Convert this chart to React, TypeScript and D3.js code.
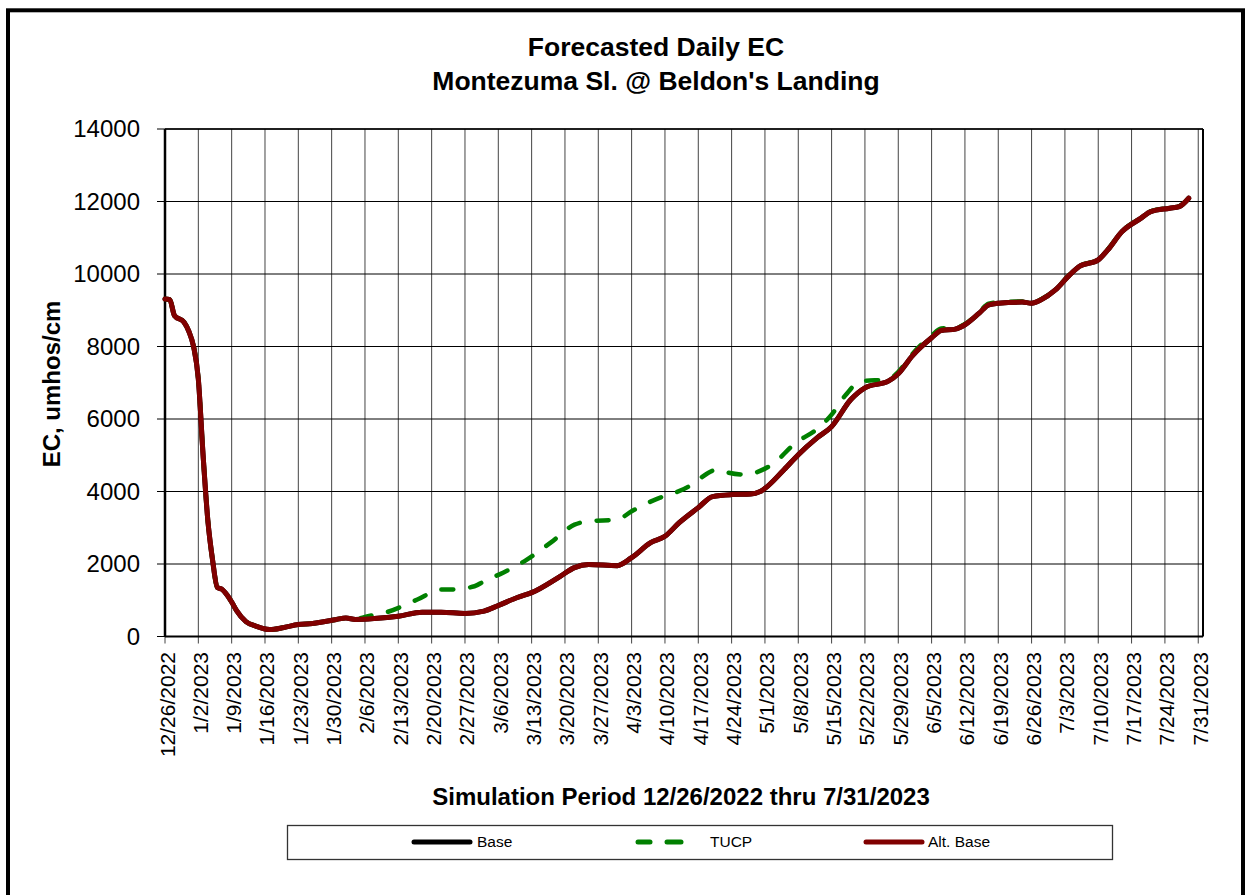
import React from "react";
import * as d3 from "d3";

// ---- data ----
const xTickLabels = [
  "12/26/2022", "1/2/2023", "1/9/2023", "1/16/2023", "1/23/2023", "1/30/2023",
  "2/6/2023", "2/13/2023", "2/20/2023", "2/27/2023", "3/6/2023", "3/13/2023",
  "3/20/2023", "3/27/2023", "4/3/2023", "4/10/2023", "4/17/2023", "4/24/2023",
  "5/1/2023", "5/8/2023", "5/15/2023", "5/22/2023", "5/29/2023", "6/5/2023",
  "6/12/2023", "6/19/2023", "6/26/2023", "7/3/2023", "7/10/2023", "7/17/2023",
  "7/24/2023", "7/31/2023",
];
const yTicks = [0, 2000, 4000, 6000, 8000, 10000, 12000, 14000];
const xDomain = ["12/26/2022", "8/1/2023"];

const altDates = [
  "12/26/2022", "12/27/2022", "12/28/2022", "12/30/2022", "12/31/2022", "1/1/2023",
  "1/2/2023", "1/3/2023", "1/4/2023", "1/5/2023", "1/6/2023", "1/7/2023",
  "1/8/2023", "1/9/2023", "1/10/2023", "1/12/2023", "1/14/2023", "1/17/2023",
  "1/20/2023", "1/23/2023", "1/26/2023", "1/28/2023", "1/31/2023", "2/2/2023",
  "2/4/2023", "2/8/2023", "2/13/2023", "2/18/2023", "2/22/2023", "2/27/2023",
  "3/3/2023", "3/6/2023", "3/10/2023", "3/13/2023", "3/19/2023", "3/22/2023",
  "3/25/2023", "3/31/2023", "4/3/2023", "4/7/2023", "4/10/2023", "4/13/2023",
  "4/17/2023", "4/20/2023", "4/24/2023", "4/28/2023", "4/30/2023", "5/5/2023",
  "5/8/2023", "5/12/2023", "5/15/2023", "5/19/2023", "5/22/2023", "5/27/2023",
  "5/29/2023", "6/1/2023", "6/5/2023", "6/7/2023", "6/10/2023", "6/12/2023",
  "6/15/2023", "6/17/2023", "6/19/2023", "6/24/2023", "6/26/2023", "6/28/2023",
  "7/1/2023", "7/4/2023", "7/6/2023", "7/10/2023", "7/12/2023", "7/15/2023",
  "7/19/2023", "7/21/2023", "7/25/2023", "7/27/2023", "7/29/2023",
];
const altValues = [
  9310, 9290, 8850, 8670, 8420, 8000,
  7100, 5000, 3200, 2100, 1350, 1300,
  1150, 950, 720, 410, 290, 190,
  250, 330, 360, 400, 470, 510,
  470, 495, 560, 670, 670, 635,
  700, 855, 1075, 1210, 1660, 1900,
  1985, 1955, 2175, 2590, 2765, 3140,
  3555, 3860, 3915, 3930, 4000, 4600,
  5015, 5485, 5790, 6530, 6860, 7050,
  7250, 7750, 8240, 8440, 8480, 8600,
  8920, 9150, 9195, 9225, 9195, 9290,
  9560, 9975, 10205, 10390, 10665, 11170,
  11540, 11720, 11815, 11860, 12090,
];

const tucpDates = [
  "12/26/2022", "12/27/2022", "12/28/2022", "12/30/2022", "12/31/2022", "1/1/2023",
  "1/2/2023", "1/3/2023", "1/4/2023", "1/5/2023", "1/6/2023", "1/7/2023",
  "1/8/2023", "1/9/2023", "1/10/2023", "1/12/2023", "1/14/2023", "1/17/2023",
  "1/20/2023", "1/23/2023", "1/26/2023", "1/28/2023", "1/31/2023", "2/2/2023",
  "2/4/2023", "2/6/2023", "2/11/2023", "2/17/2023", "2/22/2023", "2/24/2023",
  "3/1/2023", "3/3/2023", "3/7/2023", "3/12/2023", "3/17/2023", "3/22/2023",
  "3/25/2023", "3/31/2023", "4/3/2023", "4/9/2023", "4/11/2023", "4/15/2023",
  "4/17/2023", "4/21/2023", "4/23/2023", "4/27/2023", "4/29/2023", "5/3/2023",
  "5/7/2023", "5/13/2023", "5/15/2023", "5/18/2023", "5/21/2023", "5/27/2023",
  "5/29/2023", "6/1/2023", "6/5/2023", "6/7/2023", "6/10/2023", "6/12/2023",
  "6/15/2023", "6/17/2023", "6/19/2023", "6/24/2023", "6/26/2023", "6/28/2023",
  "7/1/2023", "7/4/2023", "7/6/2023", "7/10/2023", "7/12/2023", "7/15/2023",
  "7/19/2023", "7/21/2023", "7/25/2023", "7/27/2023", "7/29/2023",
];
const tucpValues = [
  9310, 9290, 8850, 8670, 8420, 8000,
  7100, 5000, 3200, 2100, 1350, 1300,
  1150, 950, 720, 410, 290, 190,
  250, 330, 360, 400, 470, 510,
  470, 540, 690, 1020, 1295, 1295,
  1385, 1525, 1760, 2120, 2590, 3085,
  3180, 3225, 3455, 3830, 3915, 4140,
  4330, 4600, 4530, 4465, 4520, 4795,
  5290, 5840, 6120, 6670, 7035, 7100,
  7300, 7800, 8300, 8500, 8520, 8620,
  8950, 9180, 9220, 9240, 9210, 9300,
  9570, 9985, 10215, 10400, 10675, 11180,
  11550, 11730, 11825, 11870, 12095,
];

// Base coincides with Alt. Base in the picture (drawn beneath it)
const baseDates = altDates;
const baseValues = altValues;

const seriesNames = ["Base", "TUCP", "Alt. Base"];
const seriesColors = ["#000000", "#008000", "#800000"];

const parse = d3.timeParse("%m/%d/%Y");

const W = 1249;
const H = 895;
const L = 165;
const R = 1203;
const T = 129;
const B = 636.5;

export default function App() {
  const x = d3
    .scaleTime()
    .domain(xDomain.map((d) => parse(d) as Date))
    .range([L, R]);
  const y = d3.scaleLinear().domain([0, 14000]).range([B, T]);

  const line = d3
    .line<[Date, number]>()
    .x((d) => x(d[0]))
    .y((d) => y(d[1]))
    .curve(d3.curveMonotoneX);

  const mk = (ds: string[], vs: number[]) =>
    ds.map((d, i) => [parse(d) as Date, vs[i]] as [Date, number]);

  const basePath = line(mk(baseDates, baseValues)) || "";
  const tucpPath = line(mk(tucpDates, tucpValues)) || "";
  const altPath = line(mk(altDates, altValues)) || "";

  const font = "'Liberation Sans', Arial, Helvetica, sans-serif";
  const tickDates = xTickLabels.map((s) => parse(s) as Date);

  return (
    <svg
      width={W}
      height={H}
      style={{ position: "absolute", left: 0, top: 0, background: "#fff" }}
      fontFamily={font}
    >
      <rect x={0} y={0} width={W} height={H} fill="#fff" />
      {/* outer frame */}
      <rect x={8} y={10.3} width={1235} height={920} fill="none" stroke="#000" strokeWidth={4} />

      {/* title */}
      <text x={656} y={55.5} textAnchor="middle" fontSize={26.5} fontWeight="bold">
        Forecasted Daily EC
      </text>
      <text x={656} y={89.5} textAnchor="middle" fontSize={26.5} fontWeight="bold">
        Montezuma Sl. @ Beldon's Landing
      </text>

      {/* vertical gridlines + x ticks */}
      {tickDates.map((d, i) => (
        <line
          key={"vg" + i}
          x1={x(d)}
          x2={x(d)}
          y1={T}
          y2={B + 7}
          stroke="#444"
          strokeWidth={1}
        />
      ))}
      {/* horizontal gridlines + y ticks */}
      {yTicks.map((v, i) => (
        <line
          key={"hg" + i}
          x1={L - 8}
          x2={R}
          y1={y(v)}
          y2={y(v)}
          stroke="#000"
          strokeWidth={1}
        />
      ))}
      {/* plot frame */}
      <line x1={L} x2={L} y1={T} y2={B} stroke="#000" strokeWidth={2.5} />
      <line x1={L} x2={R} y1={B} y2={B} stroke="#000" strokeWidth={2.2} />
      <line x1={L} x2={R} y1={T} y2={T} stroke="#000" strokeWidth={1.6} />
      <line x1={R} x2={R} y1={T} y2={B} stroke="#000" strokeWidth={2} />

      {/* y tick labels */}
      {yTicks.map((v, i) => (
        <text key={"yl" + i} x={140} y={y(v)} dy="0.35em" textAnchor="end" fontSize={24}>
          {v}
        </text>
      ))}
      {/* x tick labels */}
      {xTickLabels.map((s, i) => (
        <text
          key={"xl" + i}
          transform={`translate(${x(tickDates[i]) + 9.5},652) rotate(-90)`}
          textAnchor="end"
          fontSize={21}
        >
          {s}
        </text>
      ))}

      {/* axis titles */}
      <text
        transform="translate(60,384) rotate(-90)"
        textAnchor="middle"
        fontSize={24}
        fontWeight="bold"
      >
        EC, umhos/cm
      </text>
      <text x={681} y={805} textAnchor="middle" fontSize={24} fontWeight="bold">
        Simulation Period 12/26/2022 thru 7/31/2023
      </text>

      {/* series */}
      <path d={basePath} fill="none" stroke={seriesColors[0]} strokeWidth={5} strokeLinejoin="round" strokeLinecap="round" />
      <path
        d={tucpPath}
        fill="none"
        stroke={seriesColors[1]}
        strokeWidth={4.5}
        strokeDasharray="12 17"
        strokeLinecap="round"
        strokeLinejoin="round"
      />
      <path d={altPath} fill="none" stroke={seriesColors[2]} strokeWidth={5} strokeLinejoin="round" strokeLinecap="round" />

      {/* legend */}
      <rect x={287.5} y={825.5} width={825} height={34} fill="#fff" stroke="#333" strokeWidth={1.3} />
      <line x1={414} x2={470} y1={842} y2={842} stroke={seriesColors[0]} strokeWidth={5} strokeLinecap="round" />
      <text x={477} y={842} dy="0.35em" fontSize={15.5}>{seriesNames[0]}</text>
      <line x1={638} x2={650} y1={842} y2={842} stroke={seriesColors[1]} strokeWidth={5} strokeLinecap="round" />
      <line x1={667} x2={681} y1={842} y2={842} stroke={seriesColors[1]} strokeWidth={5} strokeLinecap="round" />
      <text x={710} y={842} dy="0.35em" fontSize={15.5}>{seriesNames[1]}</text>
      <line x1={866} x2={922} y1={842} y2={842} stroke={seriesColors[2]} strokeWidth={5} strokeLinecap="round" />
      <text x={928} y={842} dy="0.35em" fontSize={15.5}>{seriesNames[2]}</text>
    </svg>
  );
}
